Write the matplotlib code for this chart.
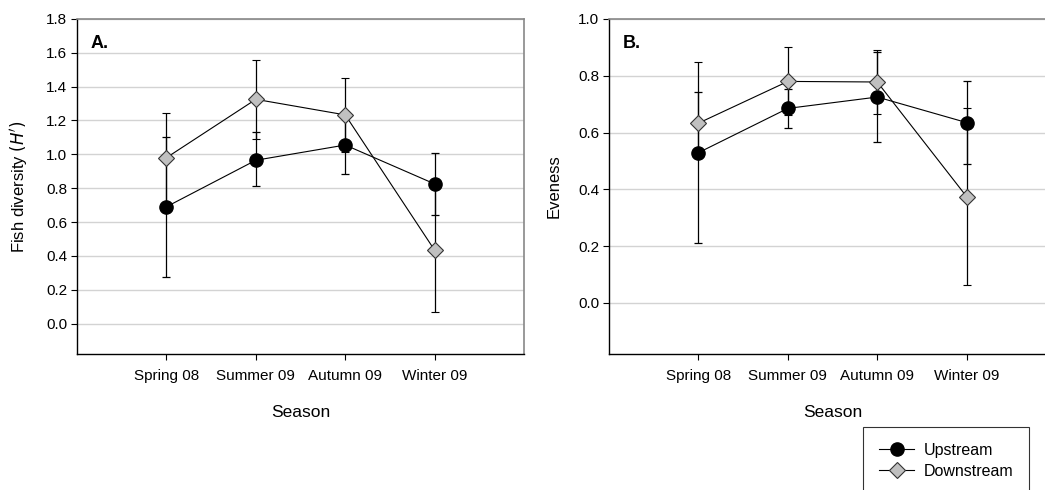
import numpy as np
import matplotlib
matplotlib.use('Agg')
import matplotlib.pyplot as plt
from matplotlib.lines import Line2D

plt.rcParams['font.family'] = ['Liberation Sans', 'DejaVu Sans']

seasons = ['Spring 08', 'Summer 09', 'Autumn 09', 'Winter 09']

# panel A - Shannon diversity H'
div_up = [0.69, 0.965, 1.055, 0.825]
div_up_lo = [0.415, 0.155, 0.17, 0.185]
div_up_hi = [0.415, 0.165, 0.17, 0.185]
div_down = [0.98, 1.325, 1.233, 0.433]
div_down_lo = [0.265, 0.235, 0.22, 0.365]
div_down_hi = [0.265, 0.235, 0.22, 0.365]

# panel B - evenness
even_up = [0.529, 0.685, 0.725, 0.635]
even_up_lo = [0.318, 0.07, 0.16, 0.146]
even_up_hi = [0.213, 0.07, 0.16, 0.146]
even_down = [0.633, 0.78, 0.778, 0.374]
even_down_lo = [0.104, 0.12, 0.113, 0.311]
even_down_hi = [0.214, 0.12, 0.113, 0.311]

fig = plt.figure(figsize=(10.45, 4.9), dpi=100)
ax1 = fig.add_axes([0.0737, 0.2776, 0.4278, 0.6837])
ax2 = fig.add_axes([0.5828, 0.2776, 0.4278, 0.6837])

x = np.arange(1, len(seasons) + 1)


def draw(ax, up, up_lo, up_hi, down, down_lo, down_hi, ymax, yticks, letter, ylabel, lab_x):
    ax.set_axisbelow(True)
    ax.yaxis.grid(True, color='#d3d3d3', linewidth=1.0)
    ax.errorbar(x, up, yerr=[up_lo, up_hi], color='black', linewidth=0.8,
                elinewidth=0.9, capsize=3, capthick=0.9, marker='o',
                markersize=9.5, markerfacecolor='black', markeredgecolor='black', zorder=3)
    ax.errorbar(x, down, yerr=[down_lo, down_hi], color='black', linewidth=0.8,
                elinewidth=0.9, capsize=3, capthick=0.9, marker='D',
                markersize=8, markerfacecolor='#c0c0c0', markeredgecolor='#333333',
                markeredgewidth=0.8, zorder=4)
    ax.set_xlim(0, 5)
    ax.set_ylim(-0.18, ymax)
    ax.set_yticks(yticks)
    ax.set_yticklabels(['%.1f' % t for t in yticks])
    ax.set_xticks(x)
    ax.set_xticklabels(seasons)
    ax.tick_params(direction='out', length=4, width=0.8, labelsize=11, colors='black')
    ax.tick_params(axis='x', pad=6.5)
    ax.tick_params(axis='y', pad=3)
    for s in ['left', 'bottom']:
        ax.spines[s].set_color('black')
        ax.spines[s].set_linewidth(1.0)
    for s in ['top', 'right']:
        ax.spines[s].set_color('#888888')
        ax.spines[s].set_linewidth(1.2)
    ax.text(0.031, 0.928, letter, transform=ax.transAxes, fontsize=13,
            fontweight='bold', va='center', ha='left')
    ax.set_xlabel('Season', fontsize=12.5)
    ax.xaxis.set_label_coords(0.5, -0.152)
    ax.set_ylabel(ylabel, fontsize=12)
    ax.yaxis.set_label_coords(lab_x, 0.5)


draw(ax1, div_up, div_up_lo, div_up_hi, div_down, div_down_lo, div_down_hi,
     1.8, np.arange(0, 1.81, 0.2), 'A.', "Fish diversity $\\it{(H')}$", -0.105)
draw(ax2, even_up, even_up_lo, even_up_hi, even_down, even_down_lo, even_down_hi,
     1.0, np.arange(0, 1.01, 0.2), 'B.', 'Eveness', -0.105)

handles = [
    Line2D([], [], color='black', linewidth=0.8, marker='o', markersize=9.5,
           markerfacecolor='black', markeredgecolor='black'),
    Line2D([], [], color='black', linewidth=0.8, marker='D', markersize=8,
           markerfacecolor='#c0c0c0', markeredgecolor='#333333', markeredgewidth=0.8),
]
leg = fig.legend(handles, ['Upstream', 'Downstream'], loc='upper left',
                 bbox_to_anchor=(863 / 1045, 1 - 427 / 490), fontsize=11.5,
                 frameon=True, fancybox=False, borderpad=1.0, handlelength=2.2,
                 handletextpad=0.6, labelspacing=0.35, borderaxespad=0)
leg.get_frame().set_edgecolor('black')
leg.get_frame().set_linewidth(0.8)

fig.savefig('out.png', dpi=100)
